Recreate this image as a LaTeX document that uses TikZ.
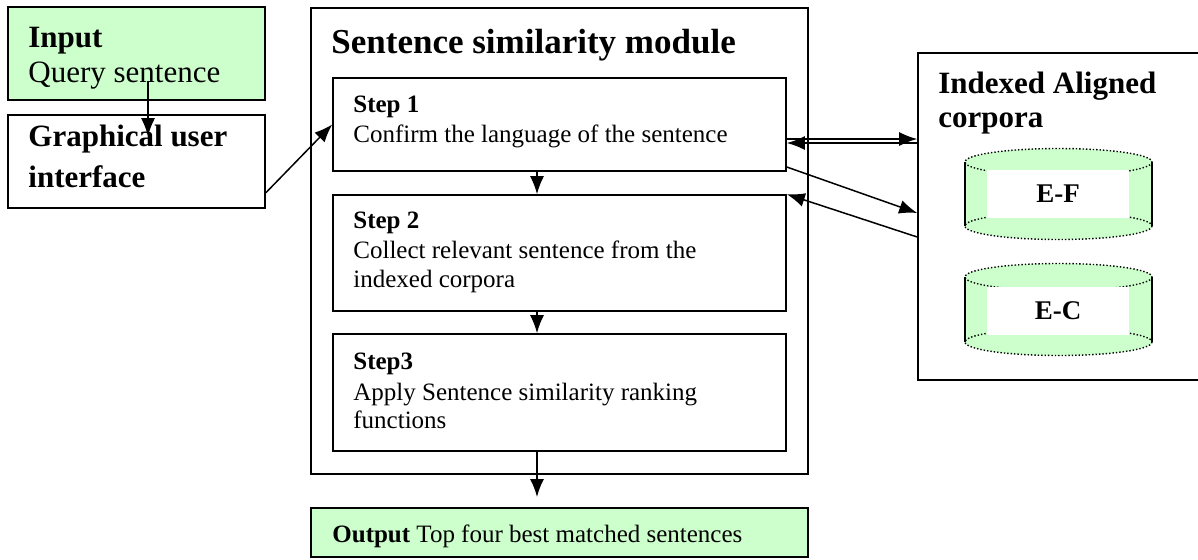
\documentclass[tikz,border=0pt]{standalone}
\usepackage{fontspec}
\setmainfont{Liberation Serif}
\usepackage{xcolor}
\usetikzlibrary{calc,fit,arrows.meta}
\definecolor{lightgreen}{HTML}{CCFFCC}

\begin{document}
\begin{tikzpicture}[x=0.5pt,y=-0.5pt,
        box/.style={draw,line width=0.8pt,inner sep=0pt},
        greenbox/.style={box,fill=lightgreen},
        txt/.style={anchor=base west,inner sep=0pt},
        rim/.style={densely dotted,line width=0.7pt},
        arr/.style={line width=0.75pt,-{Latex[length=9pt,width=7pt]}}]
        \useasboundingbox (0,0) rectangle (1198,559);
        % input side
        \node[greenbox,fit={(8,7) (265,100)}] (input) {};
        \node[txt,font=\fontsize{15.5}{18}\selectfont\bfseries] (inputhead) at (28,47) {Input};
        \node[txt,font=\fontsize{15.5}{18}\selectfont] (inputtext) at (28,82) {Query sentence};
        \node[box,fill=white,fit={(8,115) (265,208)}] (gui) {};
        \node[txt,font=\fontsize{15.5}{18}\selectfont\bfseries] (guitext) at (28,146) {Graphical user};
        \node[txt,font=\fontsize{15.5}{18}\selectfont\bfseries] (guitextb) at (28,187) {interface};
        % module with the three steps
        \node[box,fit={(311,8) (808,474)}] (module) {};
        \node[txt,font=\fontsize{17.5}{21}\selectfont\bfseries] (moduletitle) at (331,53) {Sentence similarity module};
        \node[box,fit={(333,78) (786,171)}] (step1) {};
        \node[txt,font=\fontsize{12.5}{15}\selectfont\bfseries] (step1head) at (353,112) {Step 1};
        \node[txt,font=\fontsize{12.5}{15}\selectfont] (step1text) at (353,142) {Confirm the language of the sentence};
        \node[box,fit={(333,195) (786,311)}] (step2) {};
        \node[txt,font=\fontsize{12.5}{15}\selectfont\bfseries] (step2head) at (353,228) {Step 2};
        \node[txt,font=\fontsize{12.5}{15}\selectfont] (step2text) at (353,258) {Collect relevant sentence from the};
        \node[txt,font=\fontsize{12.5}{15}\selectfont] (step2textb) at (353,287) {indexed corpora};
        \node[box,fit={(333,334) (786,451)}] (step3) {};
        \node[txt,font=\fontsize{12.5}{15}\selectfont\bfseries] (step3head) at (353,369) {Step3};
        \node[txt,font=\fontsize{12.5}{15}\selectfont] (step3text) at (353,400) {Apply Sentence similarity ranking};
        \node[txt,font=\fontsize{12.5}{15}\selectfont] (step3textb) at (353,428) {functions};
        % output
        \node[greenbox,fit={(311,508) (808,557)}] (output) {};
        \node[txt,font=\fontsize{12.5}{15}\selectfont] (outputtext) at (332,542) {\textbf{Output} Top four best matched sentences};
        % corpora
        \node[box,fit={(918,53) (1210,380)}] (corpora) {};
        \node[txt,font=\fontsize{15.5}{18}\selectfont\bfseries] (corporahead) at (938,93) {Indexed Aligned};
        \node[txt,font=\fontsize{15.5}{18}\selectfont\bfseries] (corporaheadb) at (938,127) {corpora};
        % E-F cylinder
        \fill[lightgreen] (965,162) rectangle (1152,226);
        \fill[lightgreen] (1058.5,162) ellipse[x radius=93.5,y radius=13.5];
        \fill[lightgreen] (1058.5,226) ellipse[x radius=93.5,y radius=13.5];
        \draw[rim] (1058.5,162) ellipse[x radius=93.5,y radius=13.5];
        \draw[rim] (1058.5,226) ellipse[x radius=93.5,y radius=13.5];
        \draw[line width=0.8pt] (965,162) -- (965,226) (1152,162) -- (1152,226);
        \fill[white] (987,170) rectangle (1129,218);
        \node[font=\fontsize{13.5}{16}\selectfont\bfseries] (ef) at (1058,194) {E-F};
        % E-C cylinder
        \fill[lightgreen] (965,277) rectangle (1152,342);
        \fill[lightgreen] (1058.5,277) ellipse[x radius=93.5,y radius=13.5];
        \fill[lightgreen] (1058.5,342) ellipse[x radius=93.5,y radius=13.5];
        \draw[rim] (1058.5,277) ellipse[x radius=93.5,y radius=13.5];
        \draw[rim] (1058.5,342) ellipse[x radius=93.5,y radius=13.5];
        \draw[line width=0.8pt] (965,277) -- (965,342) (1152,277) -- (1152,342);
        \fill[white] (987,287) rectangle (1129,335);
        \node[font=\fontsize{13.5}{16}\selectfont\bfseries] (ec) at (1058,311) {E-C};
        % connectors
        \coordinate (outtip) at (537,497);
        \draw[arr] ($(input.south)+(11.5,-20)$) -- ($(gui.north)+(11.5,22)$);
        \draw[arr] ($(gui.south east)+(0,-16)$) -- (step1.west);
        \draw[arr] (step1.south -| 537,0) -- (step2.north -| 537,0);
        \draw[arr] (step2.south -| 537,0) -- (step3.north -| 537,0);
        \draw[arr] (step3.south -| outtip) -- (outtip);
        \draw[arr] (step1.east |- 0,139) -- (corpora.west |- 0,139);
        \draw[arr] (corpora.west |- 0,143) -- (step1.east |- 0,143);
        \draw[arr] (step1.east |- 0,167) -- (corpora.west |- 0,213);
        \draw[arr] (corpora.west |- 0,237) -- (step2.north east);
    \end{tikzpicture}
\end{document}
